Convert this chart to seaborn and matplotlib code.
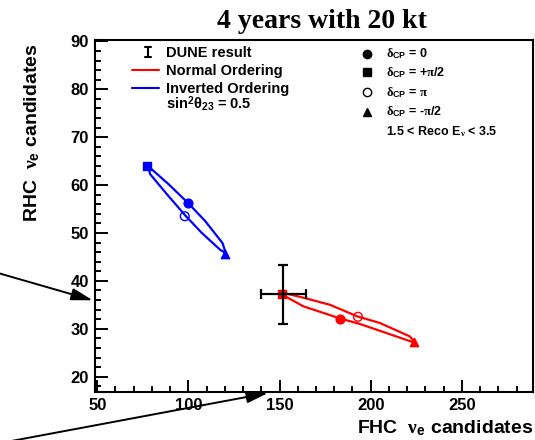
import matplotlib
matplotlib.use("Agg")
import matplotlib.pyplot as plt
from matplotlib.lines import Line2D
from matplotlib.ticker import MultipleLocator
import seaborn as sns

# nu_e candidate counts (FHC, RHC) at four CP phases: 0, +pi/2, pi, -pi/2
no_fhc = [183.0, 151.5, 193.0, 224.0]
no_rhc = [32.0, 37.3, 32.5, 27.2]
io_fhc = [100.0, 77.5, 98.0, 120.3]
io_rhc = [56.2, 64.0, 53.5, 45.6]

# closed loops traced by delta_CP for each mass ordering
no_loop_fhc = [152.1, 164.0, 177.7, 192.6, 205.1, 221.5, 224.2,
               222.4, 208.7, 194.1, 182.8, 163.0, 153.0, 152.1]
no_loop_rhc = [37.5, 36.4, 35.0, 32.6, 31.2, 28.4, 27.2,
               27.3, 29.1, 31.0, 32.2, 34.7, 36.8, 37.5]
io_loop_fhc = [77.8, 89.1, 99.7, 109.2, 118.7, 120.5,
               117.4, 107.4, 98.2, 88.2, 79.0, 77.8]
io_loop_rhc = [64.0, 60.2, 56.3, 52.5, 47.9, 45.8,
               46.5, 50.0, 53.7, 58.1, 62.3, 64.0]

# measured point with uncertainties
dune_fhc, dune_rhc = 152.0, 37.2
dune_fhc_err, dune_rhc_err = 12.4, 6.1

delta_text = ["0", r"+$\mathrm{\pi}$/2", r"$\mathrm{\pi}$", r"-$\mathrm{\pi}$/2"]
delta_markers = ["o", "s", "o", "^"]
delta_open = [False, False, True, False]

RED = "#ff0000"
BLUE = "#0000ff"

sns.set_theme(style="ticks")
plt.rcParams["font.family"] = ["Liberation Sans", "DejaVu Sans"]
plt.rcParams["font.weight"] = "bold"
plt.rcParams["mathtext.fontset"] = "custom"
plt.rcParams["mathtext.rm"] = "Liberation Serif"
plt.rcParams["mathtext.it"] = "Liberation Serif:italic"
plt.rcParams["mathtext.bf"] = "Liberation Sans:bold"
plt.rcParams["mathtext.sf"] = "Liberation Sans"

W, H = 535, 440
fig = plt.figure(figsize=(W / 100, H / 100), dpi=100)
fig.patch.set_facecolor("white")
ax = fig.add_axes([94.5 / W, 1 - 392 / H, (533 - 94.5) / W, (392 - 40) / H])
ax.set_facecolor("white")


def fp(x, y):
    """pixel position measured from the top-left corner -> figure fraction"""
    return x / W, 1 - y / H


# delta_CP loops
sns.lineplot(x=io_loop_fhc, y=io_loop_rhc, sort=False, estimator=None,
             color=BLUE, lw=1.6, ax=ax)
sns.lineplot(x=no_loop_fhc, y=no_loop_rhc, sort=False, estimator=None,
             color=RED, lw=1.6, ax=ax)

# CP-phase markers
for i, (m, hollow) in enumerate(zip(delta_markers, delta_open)):
    for fx, ry, col in ((io_fhc, io_rhc, BLUE), (no_fhc, no_rhc, RED)):
        sns.scatterplot(x=[fx[i]], y=[ry[i]], marker=m, s=40 if m != "^" else 36,
                        color=col, edgecolor=col, linewidth=1.0,
                        legend=False, ax=ax, zorder=3)
        if hollow:
            ax.collections[-1].set_facecolor("none")

# measured point
ax.errorbar(dune_fhc, dune_rhc, xerr=dune_fhc_err, yerr=dune_rhc_err,
            fmt="none", ecolor="black", elinewidth=1.6, capsize=3.3,
            capthick=1.6, zorder=5)

ax.set_xlim(48.5, 289)
ax.set_ylim(16.8, 90.3)
ax.xaxis.set_major_locator(MultipleLocator(50))
ax.xaxis.set_minor_locator(MultipleLocator(10))
ax.yaxis.set_major_locator(MultipleLocator(10))
ax.yaxis.set_minor_locator(MultipleLocator(2))
ax.tick_params(which="both", direction="in", top=False, right=False,
               width=1.4, color="black")
ax.tick_params(which="major", length=9, pad=4, labelsize=12,
               labelcolor="black")
ax.tick_params(which="minor", length=4.5)
for lab in ax.get_xticklabels() + ax.get_yticklabels():
    lab.set_fontweight("bold")
for sp in ax.spines.values():
    sp.set_linewidth(1.5)
    sp.set_color("black")
    sp.set_visible(True)

ax.set_xlabel(r"FHC  $\mathrm{\nu}_{\mathbf{e}}$ candidates", fontsize=14,
              fontweight="bold", color="black", loc="right", va="baseline")
ax.xaxis.set_label_coords(1.0, (392 - 433) / 352)
ax.set_ylabel(r"RHC  $\mathrm{\nu}_{\mathbf{e}}$ candidates", fontsize=14,
              fontweight="bold", color="black", loc="top")
ax.yaxis.set_label_coords(-0.12, 0.99)

# title
fig.text(*fp(322, 28), "4 years with 20 kt", family="Liberation Serif",
         weight="bold", fontsize=20, ha="center", va="baseline",
         color="black")

# left legend block
lk = dict(transform=fig.transFigure, color="black", lw=1.5)
x0, y0 = fp(148, 47.5)
x1, y1 = fp(148, 57)
fig.add_artist(Line2D([x0, x1], [y0, y1], **lk))
for yy in (47.5, 57):
    a, b = fp(145, yy)
    c, d = fp(151, yy)
    fig.add_artist(Line2D([a, c], [b, d], **lk))
fig.text(*fp(166, 56.7), "DUNE result", fontsize=10.5, weight="bold",
         va="baseline", color="black")
for yy, col, txt in ((70, RED, "Normal Ordering"),
                     (88, BLUE, "Inverted Ordering")):
    a, b = fp(132, yy)
    c, d = fp(159, yy)
    fig.add_artist(Line2D([a, c], [b, d], transform=fig.transFigure,
                          color=col, lw=1.5))
    fig.text(*fp(166, yy + 4.8), txt, fontsize=10.5, weight="bold",
             va="baseline", color="black")
fig.text(*fp(166, 109.3), r"sin$^{\mathbf{2}}$θ$_{\mathbf{23}}$ = 0.5",
         fontsize=10.5, weight="bold", va="baseline", color="black")

# right legend block
rows_y = [54, 72.3, 92.3, 111.7]
for yy, m, hollow, txt in zip(rows_y, delta_markers, delta_open, delta_text):
    mx, my = fp(367, yy)
    fig.add_artist(Line2D([mx], [my], transform=fig.transFigure, marker=m,
                          markersize=6 if m != "^" else 5.5, linestyle="none",
                          markerfacecolor="none" if hollow else "black",
                          markeredgecolor="black", markeredgewidth=1.0))
    fig.text(*fp(386, yy + 3.6),
             r"$\mathrm{\delta}_{\mathbf{CP}}$ = " + txt,
             fontsize=9, weight="bold", va="baseline", color="black")
fig.text(*fp(386, 135), r"1.5 < Reco E$_{\mathrm{\nu}}$ < 3.5",
         fontsize=9, weight="bold", va="baseline", color="black")

# pointer arrows
arrow = dict(arrowstyle="-|>,head_length=0.6,head_width=0.17",
             color="black", lw=1.4, mutation_scale=21.6,
             shrinkA=0, shrinkB=0)
ax.annotate("", xy=(92.8, H - 300.3), xycoords="figure pixels",
            xytext=(-2, H - 273.0), textcoords="figure pixels",
            arrowprops=arrow, annotation_clip=False)
ax.annotate("", xy=(268, H - 393), xycoords="figure pixels",
            xytext=(-2, H - 443.5), textcoords="figure pixels",
            arrowprops=arrow, annotation_clip=False)

fig.savefig("out.png", dpi=100, facecolor="white")
